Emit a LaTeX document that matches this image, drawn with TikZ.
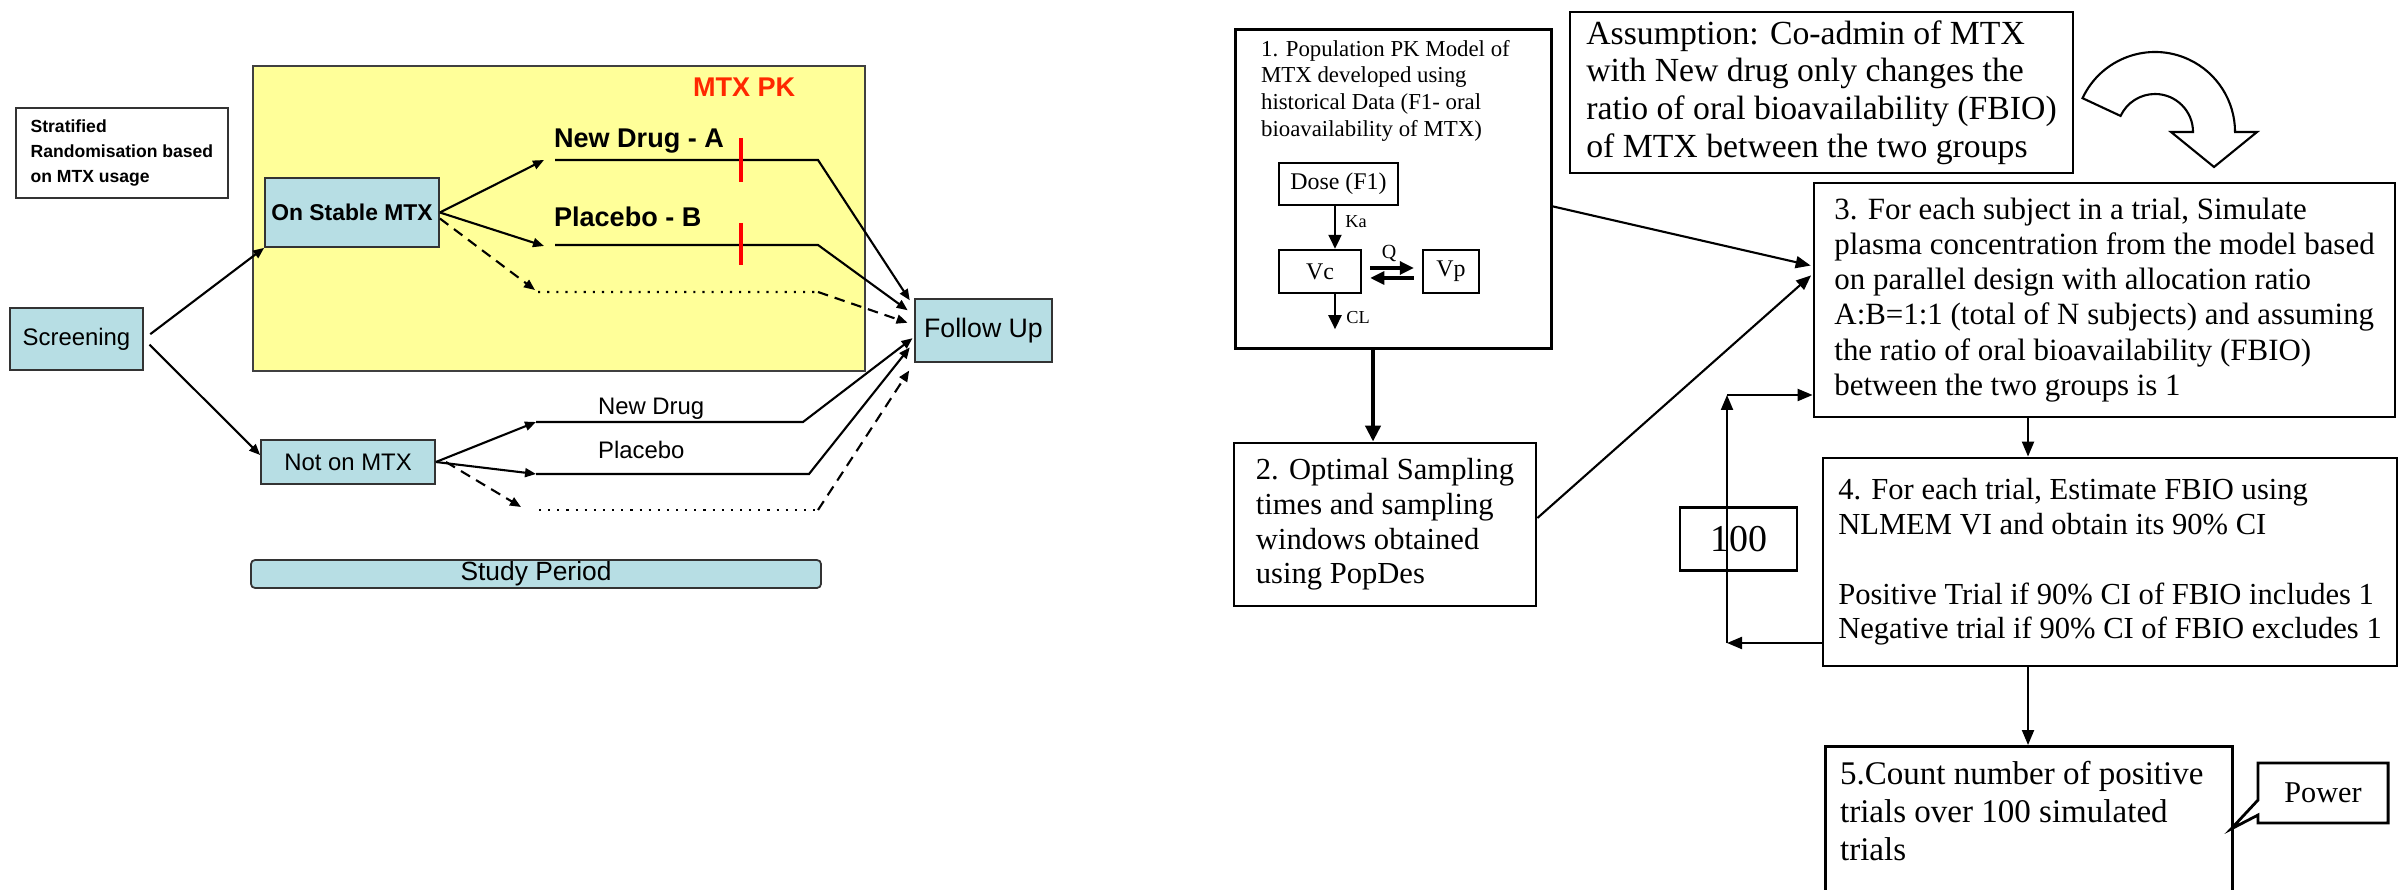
\documentclass[tikz,border=0pt]{standalone}
\usepackage{fontspec}
\setmainfont{Liberation Serif}
\newfontfamily\arialfont{Liberation Sans}
\usetikzlibrary{arrows.meta}
\definecolor{boxblue}{RGB}{183,222,228}
\definecolor{pkyellow}{RGB}{255,255,153}
\definecolor{pkred}{RGB}{255,40,0}
\newcommand{\fsz}[2]{\fontsize{#1}{#2}\selectfont}
\begin{document}
\begin{tikzpicture}[line width=0.6pt,
  pbox/.style={draw=black!80, fill=boxblue, line width=0.5pt, inner sep=0pt, font=\arialfont\fsz{6.8}{8}},
  sbox/.style={draw, line width=0.8pt, inner sep=0pt, align=left},
  tip/.style={-{Triangle[length=1.1mm,width=0.9mm]}},
  smalltip/.style={-{Triangle[length=1.4mm,width=1.3mm]}},
  bigtip/.style={-{Triangle[length=1.5mm,width=1.2mm]}}]
  \useasboundingbox (0,0) rectangle (24,-8.9);
  \clip (0,0) rectangle (24,-8.9);
  % study design
  \node[draw=black!75, fill=pkyellow, line width=0.5pt, inner sep=0pt, minimum width=6.12cm, minimum height=3.05cm, anchor=north west] (pk) at (2.52,-0.65) {};
  \node[font=\arialfont\bfseries\fsz{7.7}{9}, text=pkred, anchor=base west, inner sep=0pt] (pklab) at (6.92,-0.97) {MTX PK};
  \node[draw=black!80, line width=0.5pt, inner sep=0pt, minimum width=2.12cm, minimum height=0.90cm, anchor=north west, align=left, font=\arialfont\bfseries\fsz{5}{7.1}] (strat) at (0.15,-1.07) {Stratified\\Randomisation based\\on MTX usage};
  \node[pbox, minimum width=1.33cm, minimum height=0.62cm] (scr) at (0.765,-3.39) {Screening};
  \node[pbox, font=\arialfont\bfseries\fsz{6.5}{8}, minimum width=1.74cm, minimum height=0.69cm] (stable) at (3.52,-2.125) {On Stable MTX};
  \node[pbox, minimum width=1.74cm, minimum height=0.44cm] (noton) at (3.48,-4.62) {Not on MTX};
  \node[pbox, font=\arialfont\fsz{7.6}{9}, minimum width=1.37cm, minimum height=0.63cm] (fu) at (9.835,-3.305) {Follow Up};
  \node[pbox, rounded corners=0.04cm, font=\arialfont\fsz{7.5}{9}, minimum width=5.70cm, minimum height=0.28cm] (study) at (5.36,-5.74) {Study Period};

  \draw[tip, shorten <=0.08cm] (scr.east) -- (stable.south west);
  \draw[tip, shorten <=0.08cm] (scr.east) -- ([yshift=0.07cm]noton.west);

  \coordinate (sa) at (5.44,-1.60);
  \coordinate (sb) at (5.44,-2.46);
  \coordinate (sc) at (5.35,-2.90);
  \coordinate (sa1) at (8.18,-1.60);
  \coordinate (sb1) at (8.18,-2.45);
  \coordinate (sc1) at (8.18,-2.92);
  \draw[tip] (stable.east) -- (sa);
  \draw[tip] (stable.east) -- (sb);
  \draw[tip, densely dashed] ([yshift=-0.06cm]stable.east) -- (sc);
  \draw[tip, shorten >=0.08cm] (sa) ++(0.11,0) -- (sa1) -- ([yshift=2.35mm]fu.west);
  \draw[tip, shorten >=0.08cm] (sb) ++(0.11,0.01) -- (sb1) -- ([yshift=1.55mm]fu.west);
  \draw[dotted] (sc) ++(0.03,-0.02) -- (sc1);
  \draw[tip, densely dashed, shorten >=0.07cm] (sc1) -- ([yshift=0.55mm]fu.west);
  \draw[red, line width=1.4pt] (7.41,-1.38) -- (7.41,-1.82);
  \draw[red, line width=1.4pt] (7.41,-2.23) -- (7.41,-2.65);
  \node[font=\arialfont\bfseries\fsz{7.7}{9}, anchor=base west, inner sep=0pt] (lnewa) at (5.53,-1.48) {New Drug - A};
  \node[font=\arialfont\bfseries\fsz{7.7}{9}, anchor=base west, inner sep=0pt] (lplab) at (5.53,-2.27) {Placebo - B};

  \coordinate (na) at (5.36,-4.22);
  \coordinate (nb) at (5.36,-4.74);
  \coordinate (nc) at (5.21,-5.07);
  \coordinate (na1) at (8.03,-4.22);
  \coordinate (nb1) at (8.09,-4.74);
  \coordinate (nc1) at (8.18,-5.10);
  \draw[tip] (noton.east) -- (na);
  \draw[tip] (noton.east) -- (nb);
  \draw[tip, densely dashed] ([xshift=0.1cm]noton.east) -- (nc);
  \draw[tip, shorten >=0.02cm] (na) -- (na1) -- ([yshift=-0.65mm]fu.west);
  \draw[tip, shorten >=0.07cm] (nb) -- (nb1) -- ([yshift=-1.15mm]fu.west);
  \draw[dotted] (nc) ++(0.18,-0.03) -- (nc1);
  \draw[tip, densely dashed, shorten >=0.09cm] (nc1) -- ([yshift=-3.25mm]fu.west);
  \node[font=\arialfont\fsz{6.8}{8}, anchor=base west, inner sep=0pt] (lnew) at (5.97,-4.15) {New Drug};
  \node[font=\arialfont\fsz{6.8}{8}, anchor=base west, inner sep=0pt] (lpla) at (5.97,-4.59) {Placebo};

  % simulation scheme
  \node[sbox, minimum width=3.16cm, minimum height=3.19cm, anchor=north west] (pkmod) at (12.34,-0.28) {};
  \node[anchor=north west, align=left, inner sep=0pt, font=\fsz{6.5}{7.6}] (pkmodtxt) at (12.60,-0.39) {1. Population PK Model of\\MTX developed using\\historical Data (F1- oral\\bioavailability of MTX)};
  \node[draw, line width=0.7pt, inner sep=0pt, minimum width=1.19cm, minimum height=0.42cm, font=\fsz{6.8}{8}] (dose) at (13.385,-1.84) {Dose (F1)};
  \node[draw, line width=0.7pt, inner sep=0pt, minimum width=0.82cm, minimum height=0.43cm, font=\fsz{6.8}{8}] (vc) at (13.20,-2.715) {Vc};
  \node[draw, line width=0.7pt, inner sep=0pt, minimum width=0.56cm, minimum height=0.43cm, font=\fsz{6.8}{8}] (vp) at (14.51,-2.715) {Vp};
  \coordinate (kx) at (13.35,0);
  \draw[smalltip] (dose.south -| kx) -- (vc.north -| kx);
  \draw[smalltip] (vc.south -| kx) -- ++(0,-0.35) coordinate (clend);
  \draw[smalltip, line width=0.9pt, shorten <=0.08cm, shorten >=0.08cm] ([yshift=0.35mm]vc.east) -- ([yshift=0.35mm]vp.west);
  \draw[smalltip, line width=0.9pt, shorten <=0.08cm, shorten >=0.08cm] ([yshift=-0.65mm]vp.west) -- ([yshift=-0.65mm]vc.east);
  \node[font=\fsz{5.2}{6}, inner sep=0pt] (ka) at (13.56,-2.22) {Ka};
  \node[font=\fsz{5.7}{6}, inner sep=0pt] (q) at (13.89,-2.53) {Q};
  \node[font=\fsz{5.2}{6}, inner sep=0pt] (cl) at (13.58,-3.18) {CL};

  \node[sbox, minimum width=3.02cm, minimum height=1.63cm, font=\fsz{8.7}{9.9}] (optdes) at (13.85,-5.245) {2. Optimal Sampling\\times and sampling\\windows obtained\\using PopDes};
  \node[sbox, minimum width=5.03cm, minimum height=1.61cm, font=\fsz{9.6}{10.7}] (assump) at (18.215,-0.925) {Assumption: Co-admin of MTX\\with New drug only changes the\\ratio of oral bioavailability (FBIO)\\of MTX between the two groups};
  \node[sbox, minimum width=5.81cm, minimum height=2.34cm, font=\fsz{8.8}{10}] (simul) at (21.045,-3.00) {3. For each subject in a trial, Simulate\\plasma concentration from the model based\\on parallel design with allocation ratio\\A:B=1:1 (total of N subjects) and assuming\\the ratio of oral bioavailability (FBIO)\\between the two groups is 1};
  \node[sbox, minimum width=5.74cm, minimum height=2.08cm, font=\fsz{8.7}{9.9}] (estim) at (21.10,-5.62) {4. For each trial, Estimate FBIO using\\NLMEM VI and obtain its 90\% CI\\[9.9pt]Positive Trial if 90\% CI of FBIO includes 1\\Negative trial if 90\% CI of FBIO excludes 1};
  \node[sbox, minimum width=4.07cm, minimum height=2.0cm, anchor=north west] (count) at (18.24,-7.45) {};
  \node[anchor=north west, align=left, inner sep=0pt, font=\fsz{9.4}{10.8}] (counttxt) at (18.39,-7.60) {5.Count number of positive\\trials over 100 simulated\\trials};
  \node[inner sep=0pt, minimum width=1.28cm, minimum height=0.58cm, font=\fsz{8.6}{10}] (power) at (23.23,-7.93) {Power};
  \coordinate (pwtip) at (22.31,-8.29);
  \draw[line width=0.8pt] (power.north west) -- (power.north east) -- (power.south east) -- (power.south west) -- ([yshift=0.08cm]power.south west) -- (pwtip) -- ([yshift=0.23cm]power.south west) -- cycle;
  \node[draw, line width=0.8pt, inner sep=0pt, minimum width=1.17cm, minimum height=0.63cm, font=\fsz{10.8}{12}] (nsim) at (17.385,-5.39) {100};

  \draw[line width=0.6pt, fill=white] (21.55,-1.32) ++(155:0.80) arc[start angle=155, end angle=0, radius=0.80] -- ++(0.22,0) -- (22.14,-1.67) -- (21.71,-1.32) -- (21.93,-1.32) arc[start angle=0, end angle=155, radius=0.38] -- cycle;

  \coordinate (tx) at (13.73,0);
  \coordinate (cx) at (20.28,0);
  \coordinate (lp1) at (17.27,-6.43);
  \coordinate (lp2) at (17.27,-3.95);
  \draw[line width=1.2pt, -{Triangle[length=1.6mm,width=1.5mm]}] (pkmod.south -| tx) -- (optdes.north -| tx);
  \draw[bigtip, shorten >=0.02cm] ([yshift=-1.75mm]pkmod.east) -- ([yshift=3.4mm]simul.west);
  \draw[bigtip, shorten >=0.02cm] ([yshift=0.65mm]optdes.east) -- ([yshift=2.6mm]simul.west);
  \draw[bigtip] (simul.south -| cx) -- (estim.north -| cx);
  \draw[bigtip] (estim.south -| cx) -- (count.north -| cx);
  \draw[bigtip] (estim.west |- lp1) -- (lp1);
  \draw[bigtip] (lp1) -- (lp2);
  \draw[bigtip] (lp2) -- (simul.west |- lp2);
\end{tikzpicture}
\end{document}
